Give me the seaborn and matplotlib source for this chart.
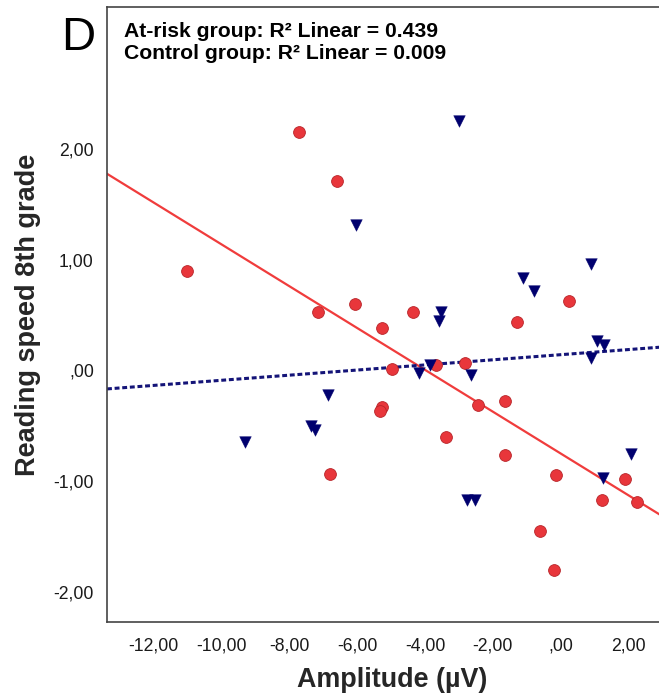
import numpy as np
import pandas as pd
import matplotlib
matplotlib.use('Agg')
import matplotlib.pyplot as plt
import seaborn as sns

# --- 1. Data ---
# At-risk group (red circles)
risk_amp = [-7.73, -6.60, -11.03, -7.16, -6.06, -5.28, 0.25, -4.36, -1.28, -4.98,
            -3.68, -2.82, -1.63, -5.26, -5.32, -2.43, -3.38, -1.63, -0.15, 1.90,
            1.21, 2.26, -0.62, -0.20, -6.79]
risk_speed = [2.15, 1.71, 0.90, 0.53, 0.60, 0.38, 0.63, 0.53, 0.44, 0.015,
              0.045, 0.07, -0.28, -0.33, -0.37, -0.315, -0.60, -0.76, -0.94, -0.976,
              -1.17, -1.19, -1.45, -1.80, -0.93]

# Control group (navy triangles)
ctrl_amp = [-6.03, -2.99, 0.90, -1.11, -0.78, -3.54, -3.58, 1.08, 1.27, 0.90,
            -4.17, -3.85, -2.65, -6.85, -7.35, -7.25, -9.31, 2.08, 1.24, -2.77, -2.53]
ctrl_speed = [1.31, 2.25, 0.96, 0.83, 0.72, 0.525, 0.445, 0.264, 0.234, 0.11,
              -0.02, 0.05, -0.045, -0.225, -0.50, -0.54, -0.646, -0.757, -0.97, -1.165, -1.165]

x_ticks = [-12, -10, -8, -6, -4, -2, 0, 2]
x_tick_labels = ['-12,00', '-10,00', '-8,00', '-6,00', '-4,00', '-2,00', ',00', '2,00']
y_ticks = [-2, -1, 0, 1, 2]
y_tick_labels = ['-2,00', '-1,00', ',00', '1,00', '2,00']

header_lines = ['At-risk group: R\u00b2 Linear = 0.439',
                'Control group: R\u00b2 Linear = 0.009']

risk_df = pd.DataFrame({'amp': risk_amp, 'speed': risk_speed})
ctrl_df = pd.DataFrame({'amp': ctrl_amp, 'speed': ctrl_speed})

# --- 2. Style ---
sns.set_style('white')
plt.rcParams['font.family'] = ['Liberation Sans', 'DejaVu Sans']

W, H = 659, 700
fig = plt.figure(figsize=(W / 100, H / 100), dpi=100)
# axes box in pixels: left 107, bottom 622, top 7, right runs past the image edge
left_px, right_px, top_px, bottom_px = 107, 663, 7, 622
ax = fig.add_axes([left_px / W, 1 - bottom_px / H,
                   (right_px - left_px) / W, (bottom_px - top_px) / H])
ax.set_xlim(-13.38, 3.02)
ax.set_ylim(-2.27, 3.28)

# --- 3. Scatter + linear fits ---
red = '#e8363b'
navy = '#00006e'
sns.regplot(data=risk_df, x='amp', y='speed', ax=ax, ci=None, truncate=False,
            marker='o',
            scatter_kws={'s': 72, 'color': red, 'edgecolor': '#b82428',
                         'linewidths': 0.6, 'alpha': 1, 'zorder': 3},
            line_kws={'color': '#f03c3c', 'lw': 1.6, 'zorder': 2})
sns.regplot(data=ctrl_df, x='amp', y='speed', ax=ax, ci=None, truncate=False,
            marker='v',
            scatter_kws={'s': 70, 'color': navy, 'edgecolor': navy,
                         'linewidths': 0.3, 'alpha': 1, 'zorder': 4},
            line_kws={'color': '#141478', 'lw': 2.2, 'zorder': 2,
                      'linestyle': (0, (1.6, 0.9))})
ax.set_xlim(-13.38, 3.02)
ax.set_ylim(-2.27, 3.28)

# --- 4. Axes, ticks, labels ---
ax.set_xticks(x_ticks)
ax.set_xticklabels(x_tick_labels)
ax.set_yticks(y_ticks)
ax.set_yticklabels(y_tick_labels)
ax.tick_params(axis='both', direction='out', length=7.5, width=1.1,
               color='#333333', labelsize=12.7, labelcolor='#1a1a1a')
ax.tick_params(axis='x', pad=4)
ax.tick_params(axis='y', pad=2)
for side in ['left', 'bottom', 'top', 'right']:
    ax.spines[side].set_color('#444444')
    ax.spines[side].set_linewidth(1.2)

ax.set_xlabel('Amplitude (\u00b5V)', fontsize=19.4, fontweight='bold', labelpad=8)
ax.set_ylabel('Reading speed 8th grade', fontsize=19.5, fontweight='bold')
ax.yaxis.set_label_coords((28 - left_px) / (right_px - left_px), 0.5)
ax.yaxis.label.set_va('center')
ax.xaxis.set_label_coords((392 - left_px) / (right_px - left_px),
                          (bottom_px - 680) / (bottom_px - top_px))
ax.xaxis.label.set_va('center')

# header text inside the frame and the panel letter
fig.text(124 / W, 1 - 22 / H, '\n'.join(header_lines), ha='left', va='top',
         fontsize=15.2, fontweight='bold', linespacing=1.22, color='black')
fig.text(61 / W, 1 - 50 / H, 'D', ha='left', va='baseline', fontsize=34,
         color='black')

fig.savefig('out.png', dpi=100)
